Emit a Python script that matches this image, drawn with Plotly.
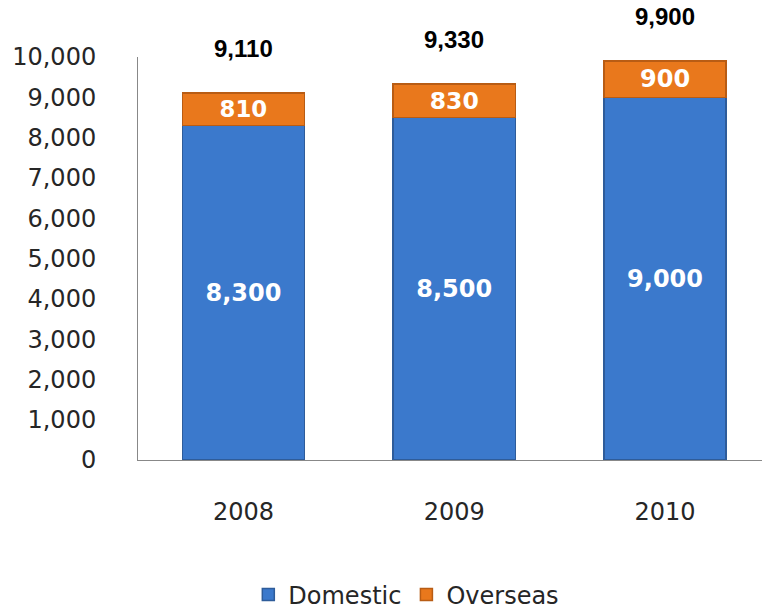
import plotly.graph_objects as go

years = ["2008", "2009", "2010"]
domestic = [8300, 8500, 9000]
overseas = [810, 830, 900]
totals = [9110, 9330, 9900]
y_ticks = [0, 1000, 2000, 3000, 4000, 5000, 6000, 7000, 8000, 9000, 10000]

FONT = "DejaVu Sans"
fig = go.Figure()
fig.add_trace(go.Bar(
    x=years, y=domestic, name="Domestic",
    marker=dict(color="#3b79cc", line=dict(color="#2e5c9a", width=1.5)),
    text=[f"{v:,}" for v in domestic], textposition="inside", insidetextanchor="middle",
    textfont=dict(family=FONT, size=24, color="white", weight="bold"),
    width=0.58,
))
fig.add_trace(go.Bar(
    x=years, y=overseas, name="Overseas",
    marker=dict(color="#e9781c", line=dict(color="#b85c14", width=1.5)),
    text=[f"{v:,}" for v in overseas], textposition="inside", insidetextanchor="middle",
    textfont=dict(family=FONT, size=24, color="white", weight="bold"),
    width=0.58,
))
for i, t in enumerate(totals):
    fig.add_annotation(x=i, y=t, xref="x", yref="y", text=f"<b>{t:,}</b>", showarrow=False,
                       yanchor="bottom", yshift=29,
                       font=dict(family="Liberation Sans", size=24, color="black"))

fig.update_layout(
    barmode="stack",
    width=762, height=609,
    margin=dict(l=138, r=0, t=57, b=149, autoexpand=False),
    paper_bgcolor="white", plot_bgcolor="white",
    font=dict(family=FONT, size=24, color="#262626"),
    xaxis=dict(type="category", range=[-0.5, 2.46], showline=True, linecolor="#888", linewidth=1,
               ticks="", tickfont=dict(size=24), showgrid=False, ticklabelstandoff=30),
    yaxis=dict(range=[0, 10000], tickvals=y_ticks, tickformat=",", showline=True,
               linecolor="#888", linewidth=1, showgrid=False, ticks="",
               ticklabelstandoff=36, tickfont=dict(size=24)),
    legend=dict(orientation="h", x=0.43, xanchor="center", yref="container", y=0.023,
                yanchor="middle", font=dict(size=24), traceorder="normal", itemwidth=30),
    showlegend=True,
)
fig.write_html("out.html")
